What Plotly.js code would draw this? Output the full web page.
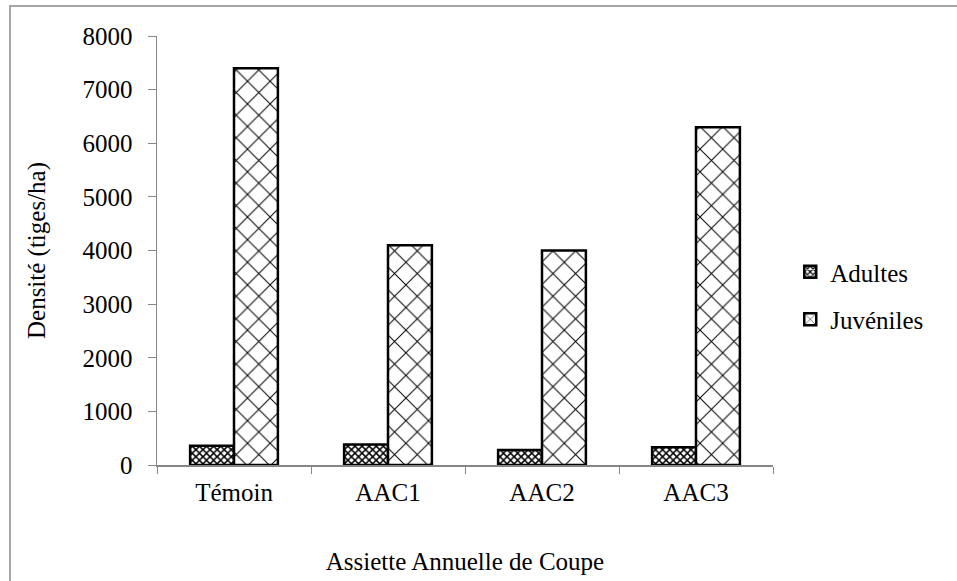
<!DOCTYPE html>
<html>
<head>
<meta charset="utf-8">
<script src="https://cdn.plot.ly/plotly-3.0.1.min.js"></script>
<style>
  html, body { margin: 0; padding: 0; background: #fff; }
  #wrap { position: relative; width: 957px; height: 581px; overflow: hidden; }
  #chart { width: 957px; height: 581px; }
  #frame { position: absolute; left: 9px; top: 5px; width: 960px; height: 590px;
           border-top: 2px solid #a6a6a6; border-left: 2px solid #a6a6a6; pointer-events: none; }
</style>
</head>
<body>
<div id="wrap">
  <div id="chart"></div>
  <div id="frame"></div>
</div>
<script>
// Stem density per annual cutting area
const categories = ["Témoin", "AAC1", "AAC2", "AAC3"];
const adultes = [360, 380, 280, 330];
const juveniles = [7400, 4100, 4000, 6300];
const yTicks = [0, 1000, 2000, 3000, 4000, 5000, 6000, 7000, 8000];

const serif = "Liberation Serif, Times New Roman, serif";
const fs = 25;

const traces = [
  {
    type: "bar", name: "Adultes", x: categories, y: adultes, legendgroup: "a",
    marker: {
      color: "#ffffff",
      line: { color: "#000000", width: 2.5 },
      pattern: { shape: "x", fgcolor: "#000000", bgcolor: "#ffffff", size: 5, solidity: 0.5 }
    }
  },
  {
    type: "bar", name: "Juvéniles", x: categories, y: juveniles, legendgroup: "j",
    marker: {
      color: "#ffffff",
      line: { color: "#000000", width: 2.5 },
      pattern: { shape: "x", fgcolor: "#000000", bgcolor: "#ffffff", size: 16, solidity: 0.12 }
    }
  }
];

const layout = {
  width: 957, height: 581,
  margin: { l: 157, r: 184, t: 36, b: 116 },
  paper_bgcolor: "#ffffff", plot_bgcolor: "#ffffff",
  font: { family: serif, size: fs, color: "#000000" },
  barmode: "group", bargap: 0.43, bargroupgap: 0,
  showlegend: true,
  legend: {
    x: 1.028, y: 0.395, xanchor: "left", yanchor: "middle",
    font: { family: serif, size: fs }, itemwidth: 30,
    traceorder: "grouped", tracegroupgap: 12,
    bgcolor: "rgba(0,0,0,0)"
  },
  xaxis: {
    type: "category",
    showline: true, linecolor: "#868686", linewidth: 1.5,
    ticks: "outside", tickson: "boundaries", ticklen: 7, tickcolor: "#868686",
    ticklabelstandoff: 4,
    showgrid: false, zeroline: false,
    tickfont: { family: serif, size: fs },
    title: { text: "Assiette Annuelle de Coupe", font: { family: serif, size: fs }, standoff: 48 }
  },
  yaxis: {
    range: [0, 8000], tickvals: yTicks, ticktext: yTicks.map(String),
    showline: true, linecolor: "#868686", linewidth: 1.5,
    ticks: "outside", ticklen: 8, tickcolor: "#868686",
    ticklabelstandoff: 10,
    showgrid: false, zeroline: false,
    tickfont: { family: serif, size: fs },
    title: { text: "Densité (tiges/ha)", font: { family: serif, size: fs }, standoff: 30 }
  }
};

Plotly.newPlot("chart", traces, layout, { displayModeBar: false, staticPlot: true });
</script>
</body>
</html>
